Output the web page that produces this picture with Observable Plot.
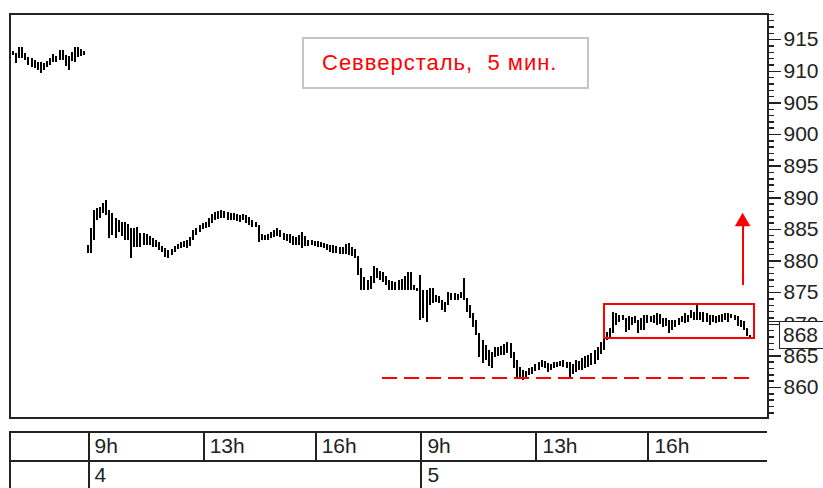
<!DOCTYPE html>
<html>
<head>
<meta charset="utf-8">
<script src="https://cdn.jsdelivr.net/npm/d3@7"></script>
<script src="https://cdn.jsdelivr.net/npm/@observablehq/plot@0.6"></script>
<style>
  html, body { margin: 0; padding: 0; background: #fff; }
  #wrap { position: relative; width: 823px; height: 488px; overflow: hidden; font-family: "Liberation Sans", Arial, sans-serif; }
  #wrap svg { display: block; font-family: "Liberation Sans", Arial, sans-serif; }
  .title-box { position: absolute; left: 302px; top: 37px; width: 287px; height: 52px; box-sizing: border-box; border: 2px solid #c4c4c4; }
  .title-text { position: absolute; left: 322px; top: 52px; font-size: 22px; line-height: 22px; letter-spacing: 1px; color: #ff0000; white-space: pre; }
  .last-box { position: absolute; box-sizing: border-box; border: 1.5px solid #222; background: #fff; font-size: 21px; color: #222; padding-left: 3px; line-height: 25px; }
  .last-link { position: absolute; height: 0; border-top: 1.5px solid #222; }
</style>
</head>
<body>
<div id="wrap"></div>
<script>
// ---- data: 5-minute bars (index = bar number), prices in roubles ----
const barHigh = [
  // day 3 (tail)
  913.1, 912.8, 913.8, 913.8, 912.8, 912.2, 912.0, 911.7, 911.4, 911.4, 911.2, 911.6,
  912.0, 912.7, 912.3, 913.3, 913.3, 912.5, 912.3, 913.0, 913.8, 913.8, 913.5, 913.1,
  // day 4
  882.5, 885.1, 888.0, 888.3, 888.5, 889.1, 889.6, 888.0, 887.5, 886.7, 886.4, 886.1,
  886.1, 885.8, 885.1, 885.1, 885.3, 884.4, 884.4, 884.2, 883.9, 883.6, 883.2, 882.9,
  882.3, 882.0, 881.7, 881.8, 882.3, 882.6, 882.9, 883.1, 883.2, 883.7, 884.8, 885.1,
  885.6, 885.9, 886.1, 886.7, 887.3, 887.7, 887.8, 888.0, 887.8, 887.7, 887.5, 887.5,
  887.3, 887.2, 887.3, 887.2, 886.9, 886.4, 886.1, 885.6, 884.2, 884.0, 884.2, 884.5,
  884.8, 885.1, 884.8, 884.4, 884.2, 884.2, 883.9, 883.7, 884.0, 884.5, 883.9, 883.2,
  883.2, 883.1, 883.1, 882.9, 882.8, 882.6, 882.5, 882.5, 882.3, 882.1, 882.1, 882.6,
  882.8, 882.1, 881.8, 880.7, 878.8, 877.4, 876.9, 877.6, 879.1, 878.8, 878.3, 878.2,
  877.6, 876.9, 876.8, 876.6, 876.9, 877.1, 877.6, 878.2, 878.2, 876.1, 875.7,
  // day 5
  877.7, 875.3, 875.3, 875.7, 875.7, 874.6, 874.4, 873.8, 873.4, 875.0, 874.9, 874.9,
  874.7, 875.0, 877.2, 874.1, 873.0, 871.7, 870.6, 868.5, 867.4, 866.6, 865.9, 865.5,
  866.3, 866.3, 866.5, 866.8, 867.1, 867.0, 865.5, 864.3, 863.2, 862.7, 862.5, 863.0,
  863.2, 863.6, 863.9, 864.3, 864.1, 863.8, 863.6, 863.9, 863.9, 864.1, 864.3, 863.9,
  863.9, 863.6, 864.3, 864.1, 864.6, 864.9, 865.1, 865.4, 865.9, 866.3, 867.1, 867.8,
  868.7, 869.3, 871.9, 871.7, 871.4, 871.4, 870.9, 871.2, 871.1, 871.2, 870.6, 870.9,
  871.4, 871.4, 871.2, 871.4, 871.7, 871.5, 870.9, 870.9, 870.6, 870.6, 870.6, 870.9,
  871.2, 871.7, 871.4, 872.2, 871.9, 873.0, 871.9, 871.9, 871.7, 871.4, 871.4, 871.2,
  871.4, 871.5, 871.7, 871.7, 871.5, 871.4, 871.2, 870.6, 870.4, 869.3, 868.2
];
const barLow = [
  // day 3 (tail)
  912.5, 911.2, 912.0, 912.0, 911.7, 910.9, 910.6, 910.4, 910.1, 909.7, 910.1, 910.6,
  910.9, 911.4, 911.4, 911.7, 911.7, 910.8, 910.1, 911.6, 911.4, 912.2, 912.3, 912.5,
  // day 4
  881.2, 881.2, 883.2, 886.4, 886.7, 887.5, 887.2, 883.6, 884.0, 883.6, 884.5, 883.9,
  883.2, 883.2, 880.4, 882.1, 882.1, 882.1, 882.5, 882.5, 882.5, 882.1, 882.1, 881.7,
  881.4, 880.6, 880.4, 880.9, 881.4, 881.8, 882.0, 882.1, 882.0, 882.3, 883.2, 884.0,
  884.5, 885.0, 885.1, 885.3, 885.9, 886.4, 886.6, 886.7, 886.7, 886.4, 886.4, 886.4,
  886.3, 886.1, 886.4, 885.9, 885.6, 885.3, 885.3, 882.9, 883.2, 883.2, 883.2, 883.6,
  883.7, 883.9, 883.7, 883.2, 883.1, 882.8, 882.5, 882.5, 882.5, 882.0, 882.3, 882.3,
  882.5, 882.3, 882.1, 882.1, 882.0, 881.7, 881.4, 881.2, 881.2, 881.0, 881.0, 881.0,
  880.9, 880.7, 880.4, 877.7, 875.3, 875.3, 875.3, 875.5, 876.4, 877.2, 876.9, 876.6,
  876.1, 875.3, 875.3, 875.3, 875.3, 875.3, 875.3, 875.3, 875.3, 875.3, 875.2,
  // day 5
  870.6, 870.9, 870.3, 873.0, 873.3, 873.4, 873.3, 872.2, 871.9, 873.0, 873.8, 873.8,
  873.8, 874.1, 873.8, 871.9, 870.9, 869.5, 868.2, 864.7, 863.8, 864.3, 863.3, 863.0,
  864.7, 864.9, 865.1, 865.1, 865.4, 864.6, 863.0, 861.6, 861.4, 861.1, 861.6, 861.9,
  862.1, 862.5, 862.7, 863.2, 863.0, 862.4, 862.7, 863.0, 863.2, 863.3, 863.2, 863.0,
  861.4, 862.1, 862.4, 862.7, 862.7, 863.0, 863.2, 863.5, 863.6, 864.3, 865.2, 865.9,
  867.4, 867.9, 868.5, 869.8, 870.3, 870.6, 868.7, 869.0, 869.8, 870.1, 868.5, 869.0,
  869.0, 870.1, 870.3, 870.1, 869.8, 870.0, 869.5, 869.6, 868.5, 869.0, 869.5, 869.8,
  870.3, 870.1, 870.3, 870.9, 870.6, 870.6, 870.6, 870.3, 870.3, 869.8, 870.3, 870.1,
  870.3, 870.3, 870.6, 870.3, 870.9, 870.6, 869.6, 869.5, 869.0, 868.1, 867.9
];

// time axis
const hourTickBars   = [24, 61, 97, 131, 168, 204];
const hourTickLabels = ["9h", "13h", "16h", "9h", "13h", "16h"];
const dayStartBars   = [24, 131];
const dayLabels      = ["4", "5"];

// price axis
const priceMajorTicks = [860, 865, 870, 875, 880, 885, 890, 895, 900, 905, 910, 915];
const priceMinorTicks = d3.range(856, 920, 1);
const lastPrice = 868;

// annotations
const titleText = "Севверсталь,  5 мин.";
const supportLevel = 861.5, supportFrom = 118.9, supportTo = 237.1;
const rangeBox = {x1: 190.2, x2: 238.5, y1: 867.8, y2: 873.1};
const arrowBar = 234.6, arrowFrom = 876.1, arrowTo = 885.7, arrowHead = 886.2;

// scales
const xDomain = [-1.1, 242.6];
const yDomain = [855.26, 919.14];

const bars = barHigh.map((h, i) => ({i, high: h, low: barLow[i]}));

const W = 823;
const main = Plot.plot({
  width: W, height: 424,
  marginLeft: 9, marginRight: 56, marginTop: 13, marginBottom: 7,
  x: {domain: xDomain, axis: null},
  y: {domain: yDomain, label: null},
  style: {background: "transparent", overflow: "visible"},
  marks: [
    Plot.ruleX(bars, {x: "i", y1: "low", y2: "high", stroke: "#000", strokeWidth: 2, shapeRendering: "crispEdges"}),
    Plot.ruleY([supportLevel], {x1: supportFrom, x2: supportTo, stroke: "#ff0000", strokeWidth: 2, strokeDasharray: "15,7", shapeRendering: "crispEdges"}),
    Plot.rect([rangeBox], {x1: "x1", x2: "x2", y1: "y1", y2: "y2", stroke: "#ff0000", strokeWidth: 2, fill: "none", shapeRendering: "crispEdges"}),
    Plot.ruleX([arrowBar], {y1: arrowFrom, y2: arrowTo, stroke: "#ff0000", strokeWidth: 2, shapeRendering: "crispEdges"}),
    Plot.dot([arrowBar], {x: d => d, y: arrowHead, symbol: "triangle", r: 5.8, fill: "#ff0000", stroke: "none"}),
    Plot.frame({stroke: "#222", strokeWidth: 2, shapeRendering: "crispEdges"}),
    Plot.axisY(priceMinorTicks, {anchor: "right", tickSize: 6, tickFormat: () => "", stroke: "#222", strokeWidth: 1.5, label: null, shapeRendering: "crispEdges"}),
    Plot.axisY(priceMajorTicks, {anchor: "right", tickSize: 13, tickPadding: 3, fontSize: 21, fill: "#222", stroke: "#222", strokeWidth: 1.5, tickFormat: d3.format("d"), label: null, shapeRendering: "crispEdges"})
  ]
});

const hourData = hourTickBars.map((b, k) => ({b, label: hourTickLabels[k]}));
const dayData = dayStartBars.map((b, k) => ({b, label: dayLabels[k]}));

const timeTable = Plot.plot({
  width: W, height: 66,
  marginLeft: 9, marginRight: 56, marginTop: 7, marginBottom: 0,
  x: {domain: xDomain, axis: null},
  y: {domain: [0, 2], range: [7, 66], axis: null},
  style: {background: "transparent", overflow: "visible"},
  marks: [
    Plot.ruleY([0, 1, 2], {stroke: "#222", strokeWidth: 2, shapeRendering: "crispEdges"}),
    Plot.ruleX([xDomain[0]], {y1: 0, y2: 2, stroke: "#222", strokeWidth: 2, shapeRendering: "crispEdges"}),
    Plot.ruleX(hourData, {x: "b", y1: 0, y2: 1, dx: 1, stroke: "#222", strokeWidth: 2, shapeRendering: "crispEdges"}),
    Plot.ruleX(dayData, {x: "b", y1: 1, y2: 2, dx: 1, stroke: "#222", strokeWidth: 2, shapeRendering: "crispEdges"}),
    Plot.text(hourData, {x: "b", y: 0.5, text: "label", textAnchor: "start", dx: 7, fontSize: 21, fill: "#222"}),
    Plot.text(dayData, {x: "b", y: 1.5, text: "label", textAnchor: "start", dx: 7, fontSize: 21, fill: "#222"})
  ]
});

const wrap = document.getElementById("wrap");
wrap.appendChild(main);
wrap.appendChild(timeTable);

// title box
const tb = document.createElement("div");
tb.className = "title-box";
wrap.appendChild(tb);
const tt = document.createElement("div");
tt.className = "title-text";
tt.textContent = titleText;
wrap.appendChild(tt);

// last price marker (partly covers the 870 label, as in the original)
const yPix = main.scale("y").apply(lastPrice);
const xRight = main.scale("x").apply(xDomain[1]);
const link = document.createElement("div");
link.className = "last-link";
link.style.left = xRight + "px";
link.style.top = (yPix - 15.5) + "px";
link.style.width = "12px";
wrap.appendChild(link);
const lb = document.createElement("div");
lb.className = "last-box";
lb.style.left = (xRight + 12) + "px";
lb.style.top = (yPix - 15.5) + "px";
lb.style.width = "50px";
lb.style.height = "28px";
lb.textContent = String(lastPrice);
wrap.appendChild(lb);
</script>
</body>
</html>
